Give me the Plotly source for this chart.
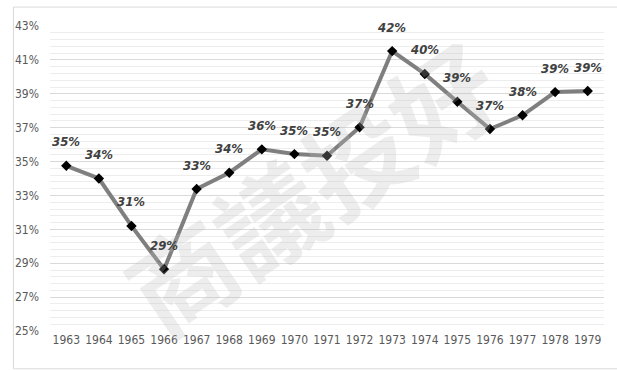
import plotly.graph_objects as go

# Annual share, 1963-1979
years = [str(y) for y in range(1963, 1980)]
share = [0.3475, 0.3400, 0.3120, 0.2864, 0.3338, 0.3434, 0.3572, 0.3544, 0.3534,
         0.3702, 0.4152, 0.4017, 0.3853, 0.3692, 0.3773, 0.3910, 0.3916]
y_ticks = [0.25, 0.27, 0.29, 0.31, 0.33, 0.35, 0.37, 0.39, 0.41, 0.43]

narrow = "Liberation Sans Narrow, DejaVu Sans Condensed, sans-serif"
tick_font = dict(family=narrow, size=12, color="#595959")

fig = go.Figure()
fig.add_trace(go.Scatter(
    x=years, y=share, mode="lines+markers",
    line=dict(color="#7f7f7f", width=4),
    marker=dict(symbol="diamond", size=8, color="#000000"),
    hoverinfo="skip", showlegend=False,
))

# faint diagonal watermark (drawn first so the value labels sit on top)
annotations = [dict(
    x=0.47, y=0.48, xref="paper", yref="paper", text="<b>商議投好</b>",
    showarrow=False, textangle=-34,
    font=dict(family="Noto Sans CJK SC", size=105, color="rgba(190,190,190,0.28)"),
)]

# value labels above each point (category axes are addressed by index)
annotations += [
    dict(x=i, y=v, xref="x", yref="y", text=f"<b><i>{round(v * 100):.0f}%</i></b>",
         showarrow=False, yshift=24,
         font=dict(family=narrow, size=13, color="#404040"))
    for i, v in enumerate(share)
]

fig.update_layout(
    width=617, height=370,
    margin=dict(l=50, r=13, t=26, b=39),
    paper_bgcolor="white", plot_bgcolor="white",
    annotations=annotations,
    shapes=[dict(type="rect", xref="paper", yref="paper",
                 x0=-0.066, x1=1.05, y0=-0.124, y1=1.062,
                 line=dict(color="#d9d9d9", width=1), layer="below")],
    xaxis=dict(
        type="category", range=[-0.5, 16.5], showgrid=False, zeroline=False,
        showline=False, ticks="", tickfont=tick_font, fixedrange=True,
    ),
    yaxis=dict(
        range=[0.25, 0.43], tickvals=y_ticks, tickformat=".0%",
        showgrid=True, gridcolor="#d9d9d9", gridwidth=1,
        minor=dict(dtick=0.004, tick0=0.25, showgrid=True, gridcolor="#ededed", gridwidth=1),
        zeroline=False, showline=False, ticks="", ticklabelstandoff=10,
        tickfont=tick_font, fixedrange=True,
    ),
)

fig.write_html("out.html")
